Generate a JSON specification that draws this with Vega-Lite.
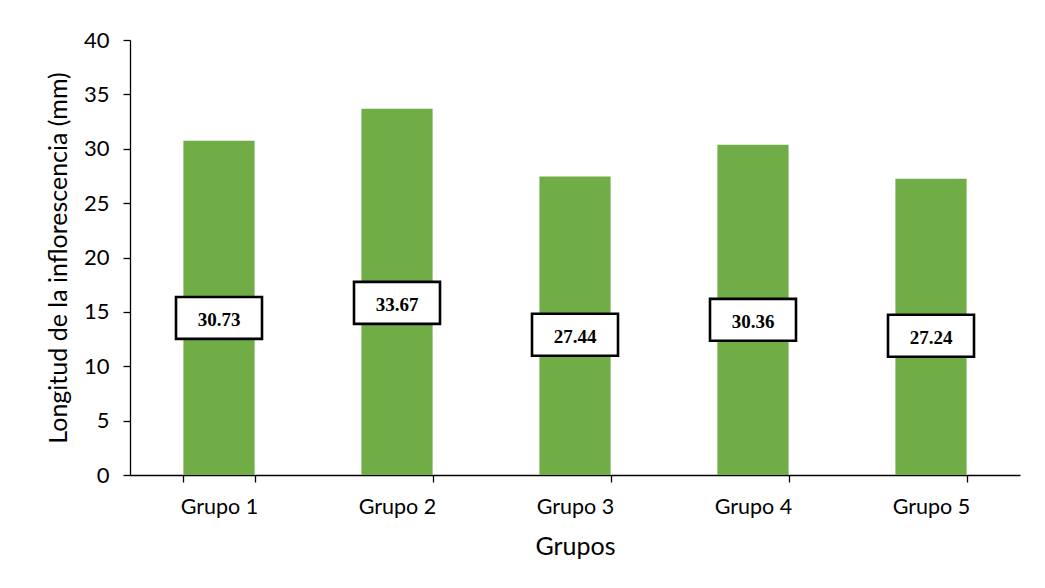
{
  "$schema": "https://vega.github.io/schema/vega-lite/v6.json",
  "autosize": {"type": "none"},
  "width": 890,
  "height": 435,
  "padding": {"left": 130, "top": 40, "right": 25, "bottom": 113},
  "background": "white",
  "data": {"values": [
    {"grupo": "Grupo 1", "valor": 30.73},
    {"grupo": "Grupo 2", "valor": 33.67},
    {"grupo": "Grupo 3", "valor": 27.44},
    {"grupo": "Grupo 4", "valor": 30.36},
    {"grupo": "Grupo 5", "valor": 27.24}
  ]},
  "transform": [
    {"calculate": "datum.valor * 0.47", "as": "lab"},
    {"calculate": "datum.lab - 1.93", "as": "lab_lo"},
    {"calculate": "datum.lab + 1.93", "as": "lab_hi"},
    {"calculate": "format(datum.valor, '.2f')", "as": "txt"}
  ],
  "config": {
    "view": {"stroke": null},
    "font": "Lato",
    "axis": {
      "domainColor": "#000000",
      "tickColor": "#000000",
      "labelColor": "#000000",
      "titleColor": "#000000",
      "grid": false,
      "labelFont": "Lato",
      "titleFont": "Lato",
      "titleFontWeight": "normal",
      "domainWidth": 1.3,
      "tickWidth": 1.3,
      "tickSize": 7
    }
  },
  "encoding": {
    "x": {
      "field": "grupo",
      "type": "nominal",
      "sort": null,
      "scale": {"paddingInner": 0.6, "paddingOuter": 0.3},
      "axis": {
        "title": "Grupos",
        "labelAngle": 0,
        "labelFontSize": 21.5,
        "titleFontSize": 25,
        "labelPadding": 14,
        "titlePadding": 17,
        "tickBand": "extent"
      }
    }
  },
  "layer": [
    {
      "mark": {"type": "bar", "color": "#70AD47"},
      "encoding": {
        "y": {
          "field": "valor",
          "type": "quantitative",
          "scale": {"domain": [0, 40]},
          "axis": {
            "title": "Longitud de la inflorescencia (mm)",
            "values": [0, 5, 10, 15, 20, 25, 30, 35, 40],
            "labelFontSize": 22,
            "titleFontSize": 25,
            "labelPadding": 14,
            "titlePadding": 12
          }
        }
      }
    },
    {
      "mark": {"type": "bar", "width": 86, "fill": "white", "stroke": "black", "strokeWidth": 2.6},
      "encoding": {
        "y": {"field": "lab_lo", "type": "quantitative"},
        "y2": {"field": "lab_hi"}
      }
    },
    {
      "mark": {"type": "text", "font": "Liberation Serif", "fontWeight": "bold", "fontSize": 19, "baseline": "middle", "dy": 2, "color": "black"},
      "encoding": {
        "y": {"field": "lab", "type": "quantitative"},
        "text": {"field": "txt"}
      }
    }
  ]
}
